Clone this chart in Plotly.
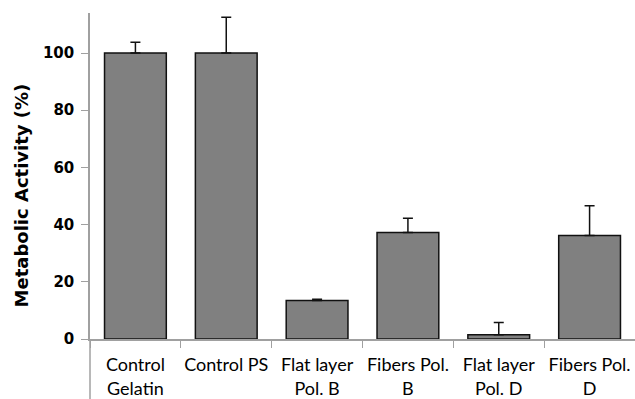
import plotly.graph_objects as go

categories = ["Control<br>Gelatin", "Control PS", "Flat layer<br>Pol. B", "Fibers Pol.<br>B", "Flat layer<br>Pol. D", "Fibers Pol.<br>D"]
values = [100, 100, 13.5, 37.2, 1.5, 36.2]
errors_up = [3.8, 12.5, 0.4, 5.0, 4.3, 10.4]
y_ticks = [0, 20, 40, 60, 80, 100]
y_title = "Metabolic Activity (%)"

fig = go.Figure()
fig.add_trace(go.Bar(
    x=categories, y=values,
    marker=dict(color="#808080", line=dict(color="#111111", width=1.5)),
    error_y=dict(type="data", array=errors_up, arrayminus=[0]*len(values), symmetric=False,
                 color="#111111", thickness=1.5, width=5),
))

fig.update_layout(
    width=635, height=399,
    margin=dict(l=90, r=0, t=13, b=60),
    paper_bgcolor="white", plot_bgcolor="white",
    bargap=0.32, showlegend=False,
    font=dict(family="DejaVu Sans", color="black"),
)
fig.update_xaxes(
    type="category", tickson="boundaries", ticks="outside", ticklen=7, tickcolor="#a0a0a0",
    showline=True, linecolor="#a0a0a0", linewidth=1.5, showgrid=False, automargin=False,
    tickangle=0, ticklabelstandoff=9, tickfont=dict(family="Lato", size=18, color="black"),
)
fig.update_yaxes(
    range=[0, 114], tickvals=y_ticks, ticks="outside", ticklen=7, tickcolor="#a0a0a0",
    showline=True, linecolor="#a0a0a0", linewidth=1.5, showgrid=False, zeroline=False, automargin=False,
    ticklabelstandoff=4, tickfont=dict(family="DejaVu Sans", size=15, color="black", weight="bold"),
)
fig.add_annotation(text=y_title, xref="paper", yref="paper", x=-0.125, y=0.44,
                   xanchor="center", yanchor="middle", textangle=-90, showarrow=False,
                   font=dict(family="DejaVu Sans", size=18, color="black", weight="bold"))
fig.add_shape(type="line", xref="paper", yref="paper", x0=0, x1=0, y0=0, y1=-0.2,
              line=dict(color="#a0a0a0", width=1.5))

fig.write_html("out.html", config={"displayModeBar": False},
               post_script="document.body.style.margin='0';")
